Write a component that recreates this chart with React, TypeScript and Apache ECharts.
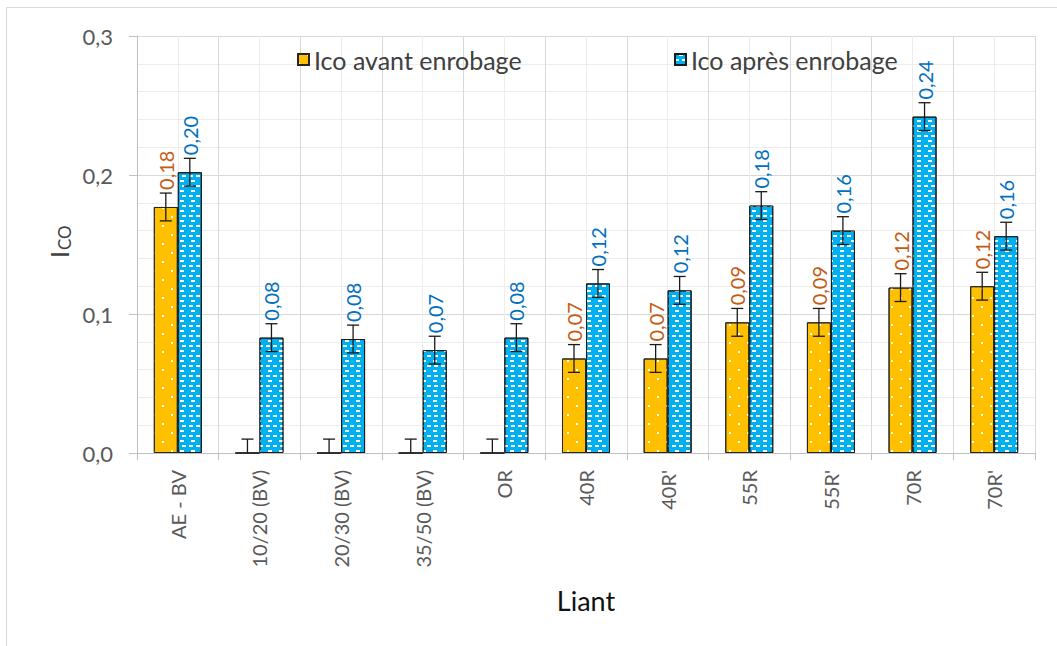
import React, { useEffect, useRef } from 'react';
import * as echarts from 'echarts';

const categories = ['AE - BV', '10/20 (BV)', '20/30 (BV)', '35/50 (BV)', 'OR', '40R', "40R'", '55R', "55R'", '70R', "70R'"];
const icoAvant = [0.177, 0, 0, 0, 0, 0.068, 0.068, 0.094, 0.094, 0.119, 0.12];
const icoApres = [0.202, 0.083, 0.082, 0.074, 0.083, 0.122, 0.117, 0.178, 0.16, 0.242, 0.156];
const errAvant = [0.01, 0.01, 0.01, 0.01, 0.01, 0.01, 0.01, 0.01, 0.01, 0.01, 0.01];
const errApres = [0.01, 0.01, 0.01, 0.01, 0.01, 0.01, 0.01, 0.01, 0.01, 0.01, 0.01];
const seriesNames = ['Ico avant enrobage', 'Ico après enrobage'];

const FONT = 'Lato, "Noto Sans", sans-serif';
const BAR_FRAC = 0.294;

const fmt2 = (v: number) => (v > 0 ? v.toFixed(2).replace('.', ',') : '');

function errRender(sign: number) {
  return (params: any, api: any) => {
    const i = api.value(0);
    const v = api.value(1);
    const e = api.value(2);
    const band = api.size([1, 0])[0];
    const bw = band * BAR_FRAC;
    const cx = api.coord([i, v])[0] + (sign * bw) / 2;
    const yTop = api.coord([i, v + e])[1];
    const low = Math.max(v - e, 0);
    const yLow = api.coord([i, low])[1];
    const st = { stroke: '#1a1a1a', lineWidth: 1.3 };
    const children: any[] = [
      { type: 'line', shape: { x1: cx, y1: yTop, x2: cx, y2: yLow }, style: st },
      { type: 'line', shape: { x1: cx - 6, y1: yTop, x2: cx + 6, y2: yTop }, style: st },
    ];
    if (v - e >= 0) {
      children.push({ type: 'line', shape: { x1: cx - 6, y1: yLow, x2: cx + 6, y2: yLow }, style: st });
    }
    return { type: 'group', children };
  };
}

export default function App() {
  const ref = useRef<HTMLDivElement>(null);
  useEffect(() => {
    const chart = echarts.init(ref.current!, null, { renderer: 'svg' });
    const option: any = {
      animation: false,
      textStyle: { fontFamily: FONT },
      grid: { left: 137, right: 22, top: 36, bottom: 193, containLabel: false },
      legend: [
        {
          left: 292, top: 42, icon: 'rect', itemWidth: 11, itemHeight: 11, itemGap: 6,
          data: [seriesNames[0]],
          textStyle: { fontSize: 25, color: '#404040', fontFamily: FONT },
        },
        {
          left: 669, top: 42, icon: 'rect', itemWidth: 11, itemHeight: 11, itemGap: 6,
          data: [seriesNames[1]],
          textStyle: { fontSize: 25, color: '#404040', fontFamily: FONT },
        },
      ],
      graphic: [
        {
          type: 'rect', silent: true, z: -10,
          shape: { x: 6.5, y: 7.5, width: 1200, height: 800 },
          style: { fill: 'none', stroke: '#D9D9D9', lineWidth: 1 },
        },
        {
          type: 'group', x: 71, y: 258, rotation: Math.PI / 2,
          children: [
            { type: 'text', x: 0, y: 0, style: { text: 'I', fontSize: 25, fill: '#404040', fontFamily: FONT, align: 'left', verticalAlign: 'bottom' } },
            { type: 'text', x: 8, y: 2, style: { text: 'CO', fontSize: 17, fill: '#404040', fontFamily: FONT, align: 'left', verticalAlign: 'bottom' } },
          ],
        },
      ],
      xAxis: [
        {
          type: 'category',
          data: categories,
          boundaryGap: true,
          name: 'Liant',
          nameLocation: 'middle',
          nameGap: 134,
          nameTextStyle: { fontSize: 27, color: '#111', fontFamily: FONT },
          axisLine: { lineStyle: { color: '#BFBFBF', width: 1 } },
          axisTick: { show: true, length: 7, lineStyle: { color: '#BFBFBF' } },
          axisLabel: { rotate: 90, fontSize: 20, color: '#595959', margin: 17, interval: 0, fontFamily: FONT },
          splitLine: { show: false },
        },
        {
          type: 'value',
          min: 0,
          max: 11,
          interval: 1,
          position: 'bottom',
          axisLine: { show: false },
          axisTick: { show: false },
          axisLabel: { show: false },
          minorTick: { show: false, splitNumber: 2 },
          splitLine: { show: true, lineStyle: { color: '#D9D9D9', width: 1 } },
          minorSplitLine: { show: true, lineStyle: { color: '#EDEDED', width: 1 } },
        },
      ],
      yAxis: {
        type: 'value',
        min: 0,
        max: 0.3,
        interval: 0.1,
        axisLine: { show: true, lineStyle: { color: '#BFBFBF', width: 1 } },
        axisTick: { show: true, length: 8, lineStyle: { color: '#BFBFBF' } },
        axisLabel: {
          fontSize: 22, color: '#595959', margin: 24, fontFamily: FONT,
          formatter: (v: number) => v.toFixed(1).replace('.', ','),
        },
        minorTick: { show: false, splitNumber: 5 },
        splitLine: { show: true, lineStyle: { color: '#D9D9D9', width: 1 } },
        minorSplitLine: { show: true, lineStyle: { color: '#EDEDED', width: 1 } },
      },
      series: [
        {
          name: seriesNames[0],
          type: 'bar',
          xAxisIndex: 0,
          data: icoAvant,
          barWidth: (BAR_FRAC * 100) + '%',
          barGap: '0%',
          itemStyle: {
            color: '#FFC000',
            borderColor: '#262626',
            borderWidth: 1,
            decal: {
              symbol: 'rect', symbolSize: 1, symbolKeepAspect: false, color: '#ffffff',
              dashArrayX: [[2, 16], [0, 9, 2, 7]],
              dashArrayY: [2, 6.5],
            },
          },
          label: {
            show: true, position: 'top', rotate: 90, align: 'left', verticalAlign: 'middle',
            distance: 17, fontSize: 20, color: '#C55A11', fontFamily: FONT,
            formatter: (p: any) => fmt2(p.value),
          },
        },
        {
          name: seriesNames[1],
          type: 'bar',
          xAxisIndex: 0,
          data: icoApres,
          barWidth: (BAR_FRAC * 100) + '%',
          barGap: '0%',
          itemStyle: {
            color: '#00B0F0',
            borderColor: '#1a1a1a',
            borderWidth: 1,
            decal: {
              symbol: 'rect', symbolSize: 1, symbolKeepAspect: false, color: '#ffffff',
              dashArrayX: [[4, 3], [0, 3.5, 4, 3 - 0.5]],
              dashArrayY: [1.5, 2.7],
            },
          },
          label: {
            show: true, position: 'top', rotate: 90, align: 'left', verticalAlign: 'middle',
            distance: 17, fontSize: 20, color: '#0070C0', fontFamily: FONT,
            formatter: (p: any) => fmt2(p.value),
          },
        },
        {
          name: 'errAvant',
          type: 'custom',
          xAxisIndex: 0,
          z: 5,
          encode: { x: 0, y: 1 },
          data: icoAvant.map((v, i) => [i, v, errAvant[i]]),
          renderItem: errRender(-1),
          silent: true,
        },
        {
          name: 'errApres',
          type: 'custom',
          xAxisIndex: 0,
          z: 5,
          encode: { x: 0, y: 1 },
          data: icoApres.map((v, i) => [i, v, errApres[i]]),
          renderItem: errRender(1),
          silent: true,
        },
      ],
    };
    chart.setOption(option);
    return () => chart.dispose();
  }, []);
  return <div ref={ref} style={{ position: 'absolute', left: 0, top: 0, width: 1057, height: 646 }} />;
}
